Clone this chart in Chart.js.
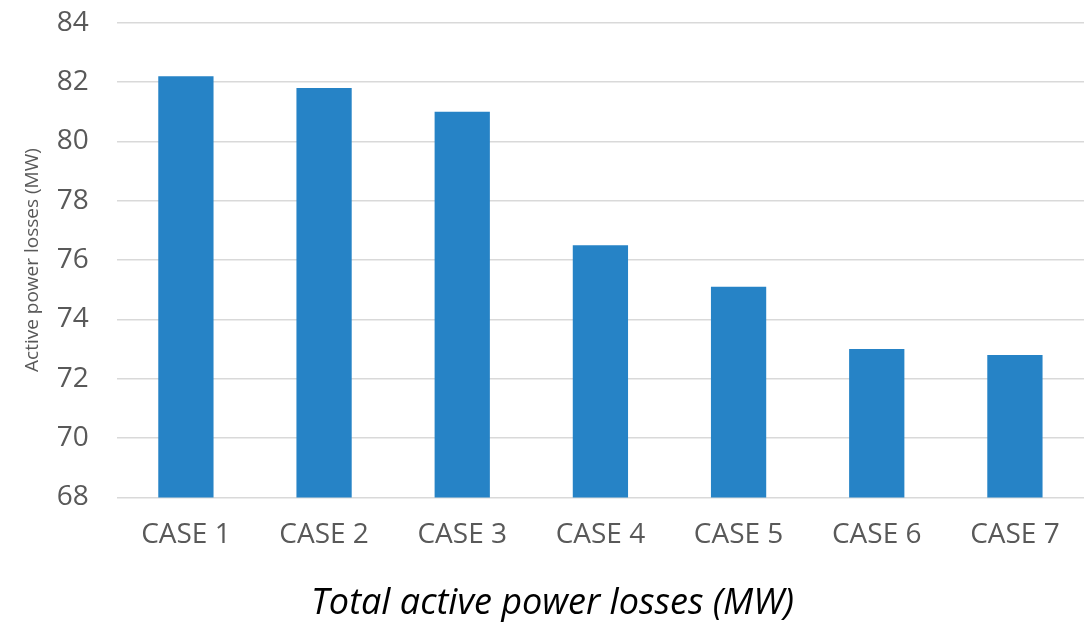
<!DOCTYPE html>
<html>
<head>
<title>Total active power losses</title>
<script src="https://cdn.jsdelivr.net/npm/chart.js"></script>
<style>
  body { margin:0; background:#fff; }
  #wrap { width:1091px; height:622px; }
</style>
</head>
<body>
<div id="wrap"><canvas id="lossChart"></canvas></div>
<script>
// data
const categories = ["CASE 1","CASE 2","CASE 3","CASE 4","CASE 5","CASE 6","CASE 7"];
const losses = [82.2, 81.8, 81.0, 76.5, 75.1, 73.0, 72.8];
const yMin = 68, yMax = 84, yStep = 2;

const FONT = "'Open Sans', 'Lato', sans-serif";

const ctx = document.getElementById('lossChart').getContext('2d');
new Chart(ctx, {
  type: 'bar',
  data: {
    labels: categories,
    datasets: [{
      label: 'Active power losses (MW)',
      data: losses,
      backgroundColor: '#2683c6',
      borderWidth: 0,
      categoryPercentage: 1.0,
      barPercentage: 0.4
    }]
  },
  options: {
    responsive: true,
    maintainAspectRatio: false,
    animation: false,
    layout: { padding: { top: 0, right: 7, bottom: 0, left: 21 } },
    plugins: {
      legend: { display: false },
      tooltip: { enabled: false },
      // bottom title centred on the whole chart, like the original
      title: {
        display: true,
        position: 'bottom',
        text: 'Total active power losses (MW)',
        color: '#000',
        font: { family: FONT, size: 36, style: 'italic', weight: 'normal', lineHeight: 1 },
        padding: { top: 21, bottom: 0 }
      }
    },
    scales: {
      x: {
        grid: { display: false },
        border: { display: false },
        ticks: {
          color: '#595959',
          font: { family: FONT, size: 28 },
          padding: 13,
          maxRotation: 0
        }
      },
      y: {
        min: yMin,
        max: yMax,
        // invisible tick marks give the gap between labels and plot
        grid: { color: '#d9d9d9', lineWidth: 1.5, drawTicks: true, tickLength: 22, tickColor: 'rgba(0,0,0,0)' },
        border: { display: false },
        ticks: {
          stepSize: yStep,
          color: '#595959',
          font: { family: FONT, size: 28 },
          padding: 6
        },
        title: {
          display: true,
          text: 'Active power losses (MW)',
          color: '#595959',
          font: { family: FONT, size: 19 },
          padding: { top: 0, bottom: 7 }
        }
      }
    }
  }
});
</script>
</body>
</html>
